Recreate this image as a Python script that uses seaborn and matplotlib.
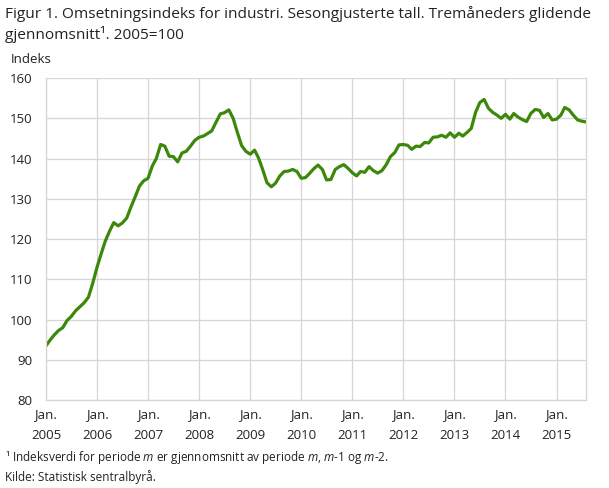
import matplotlib
matplotlib.use("Agg")

import matplotlib.pyplot as plt
import pandas as pd
import seaborn as sns

# Tremåneders glidende snitt, jan. 2005 - aug. 2015
indeks = [
    93.5, 95.0, 96.2, 97.3, 98.0, 99.8, 100.8, 102.2, 103.2, 104.2, 105.6, 109.0,
    113.0, 116.5, 119.5, 122.0, 124.1, 123.3, 124.0, 125.2, 128.0, 130.5, 133.2, 134.5,
    135.1, 138.2, 140.0, 143.5, 143.1, 140.6, 140.5, 139.2, 141.4, 141.8, 143.1, 144.5,
    145.3, 145.6, 146.2, 146.9, 149.0, 151.1, 151.4, 152.1, 150.0, 146.5, 143.2, 141.8,
    141.1, 142.1, 140.2, 137.2, 134.0, 133.0, 133.9, 135.7, 136.8, 136.9, 137.3, 136.8,
    135.1, 135.3, 136.3, 137.5, 138.4, 137.3, 134.7, 134.8, 137.3, 138.0, 138.5, 137.6,
    136.5, 135.7, 136.8, 136.6, 138.0, 137.0, 136.4, 137.0, 138.5, 140.5, 141.5, 143.4,
    143.5, 143.3, 142.3, 143.1, 143.0, 144.0, 143.9, 145.3, 145.4, 145.8, 145.3, 146.4,
    145.3, 146.3, 145.6, 146.5, 147.5, 151.5, 153.9, 154.7, 152.5, 151.5, 150.8, 150.0,
    151.0, 149.8, 151.2, 150.3, 149.7, 149.2, 151.2, 152.2, 152.0, 150.2, 151.2, 149.6,
    149.8, 150.8, 152.7, 152.1, 150.8, 149.6, 149.3, 149.1,
]
maaneder = pd.date_range("2005-01-01", periods=len(indeks), freq="MS")
aar = list(range(2005, 2016))
y_ticks = [80, 90, 100, 110, 120, 130, 140, 150, 160]

GRONN = "#3c880a"
GRID = "#d6d6d6"
TEKST = "#222222"

sns.set_style("white")
plt.rcParams["font.family"] = ["Open Sans", "DejaVu Sans"]
plt.rcParams["mathtext.fontset"] = "custom"
plt.rcParams["mathtext.it"] = "Open Sans:italic"
plt.rcParams["mathtext.rm"] = "Open Sans"

df = pd.DataFrame({"maaned": maaneder, "indeks": indeks})

fig = plt.figure(figsize=(6.09, 4.88), dpi=100)
ax = fig.add_axes([0.0755, 0.180, 0.887, 0.660])

sns.lineplot(data=df, x="maaned", y="indeks", color=GRONN, linewidth=2.3, ax=ax)

ax.set_xlim(maaneder[0], maaneder[-1])
ax.set_ylim(80, 160)
ax.set_yticks(y_ticks)
ax.set_xticks([pd.Timestamp(f"{a}-01-01") for a in aar])
ax.set_xticklabels([f"Jan.\n{a}" for a in aar], linespacing=1.75)
ax.tick_params(axis="both", length=0, labelsize=9.5, colors=TEKST, pad=6)
ax.tick_params(axis="y", pad=10)
ax.grid(True, color=GRID, linewidth=0.9)
ax.set_axisbelow(True)
for side in ["left", "right", "top", "bottom"]:
    ax.spines[side].set_color(GRID)
    ax.spines[side].set_linewidth(0.9)
ax.spines["top"].set_visible(False)
ax.set_xlabel("")
ax.set_ylabel("")

fig.text(0.008, 0.988,
         "Figur 1. Omsetningsindeks for industri. Sesongjusterte tall. Tremåneders glidende\n"
         "gjennomsnitt¹. 2005=100",
         fontsize=11.1, color=TEKST, va="top", ha="left", linespacing=1.3)
fig.text(0.017, 0.865, "Indeks", fontsize=9.5, color=TEKST, va="bottom", ha="left")
fig.text(0.008, 0.045,
         r"¹ Indeksverdi for periode $m$ er gjennomsnitt av periode $m$, $m$-1 og $m$-2.",
         fontsize=8.5, color=TEKST, va="bottom", ha="left")
fig.text(0.008, 0.008, "Kilde: Statistisk sentralbyrå.",
         fontsize=8.5, color=TEKST, va="bottom", ha="left")

fig.savefig("out.png", dpi=100)
plt.close(fig)
